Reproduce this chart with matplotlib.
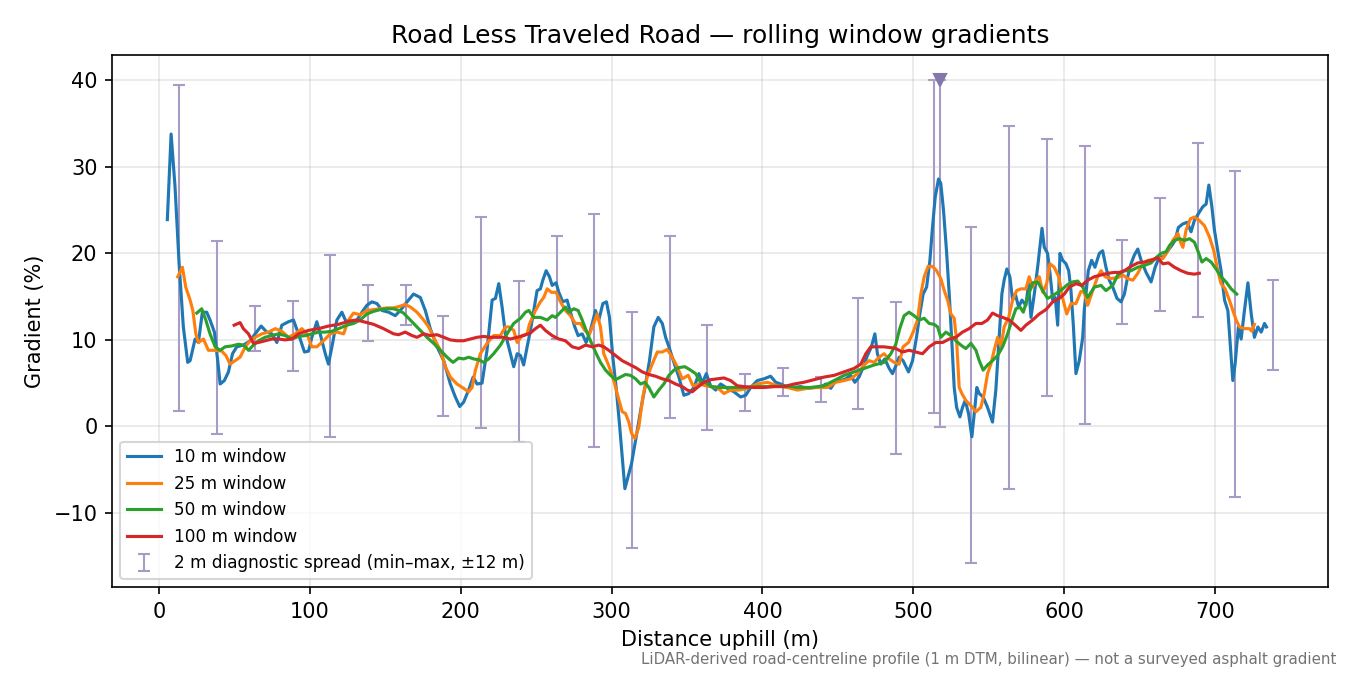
import numpy as np
import matplotlib
matplotlib.use("Agg")
import matplotlib.pyplot as plt

# 10 m window (distance m, gradient %)
x10 = [5.5, 8.0, 10.6, 13.3, 16.1, 19.0, 20.6, 23.9, 26.1, 28.7, 31.6, 33.8, 36.7, 38.9, 40.5, 43.3, 46.0, 48.7,
       51.5, 56.0, 60.4, 63.7, 67.7, 71.4, 74.8, 78.1, 81.4, 85.8, 89.1, 92.4, 96.4, 99.1, 101.3, 104.6, 106.8,
       110.2, 112.3, 114.6, 117.9, 121.2, 124.5, 127.9, 131.2, 134.5, 137.8, 141.1, 144.5, 147.8, 152.2, 156.6,
       159.9, 164.4, 168.7, 173.2, 176.5, 179.8, 184.3, 188.7, 193.1, 196.4, 199.3, 201.9, 205.2, 208.2, 210.8,
       214.1, 217.4, 220.8, 223.0, 225.2, 227.4, 229.6, 231.8, 235.1, 237.4, 239.6, 241.7, 244.0, 246.2, 248.4,
       250.6, 252.8, 254.4, 256.6, 258.8, 260.6, 263.2, 265.0, 267.6, 270.5, 272.7, 275.6, 277.8, 280.5, 283.1,
       286.0, 289.3, 291.5, 294.2, 296.6, 298.6, 300.8, 303.0, 305.2, 307.4, 308.8, 310.3, 313.2, 315.9, 319.2,
       322.5, 325.1, 328.0, 330.9, 333.6, 335.8, 338.0, 341.3, 344.6, 347.9, 351.2, 354.6, 357.9, 360.1, 362.8,
       365.6, 369.0, 372.3, 376.7, 381.1, 385.5, 388.9, 392.2, 396.6, 401.0, 405.4, 408.8, 412.1, 416.5, 420.9,
       425.3, 429.8, 434.2, 438.6, 441.9, 445.3, 448.6, 451.9, 455.2, 458.5, 461.2, 464.0, 466.9, 469.6, 472.2,
       474.5, 476.2, 478.4, 481.1, 484.0, 486.2, 488.4, 490.6, 493.2, 496.8, 499.5, 502.1, 504.3, 506.5, 508.8,
       511.0, 512.7, 514.5, 516.7, 518.2, 520.0, 522.0, 523.8, 525.5, 527.1, 528.7, 530.9, 532.6, 534.4, 536.6,
       538.8, 540.4, 542.1, 543.7, 546.3, 549.2, 552.5, 554.7, 556.5, 558.7, 560.2, 562.0, 564.0, 565.8, 567.6,
       569.8, 572.0, 574.6, 576.4, 578.0, 580.2, 582.4, 583.9, 585.3, 586.8, 589.0, 590.6, 592.4, 594.1, 595.7,
       597.2, 599.0, 601.2, 603.0, 604.5, 606.0, 607.8, 610.0, 612.3, 613.3, 616.0, 618.2, 620.4, 623.3, 625.5,
       627.7, 629.9, 632.2, 635.0, 637.7, 639.9, 642.1, 644.3, 646.5, 648.8, 651.0, 654.3, 657.6, 660.3, 663.1,
       666.0, 668.7, 671.3, 673.5, 675.7, 678.6, 681.5, 684.1, 686.3, 689.0, 691.9, 694.1, 695.9, 697.9, 699.6,
       701.8, 704.0, 706.3, 708.5, 710.2, 711.8, 713.3, 715.5, 717.3, 719.5, 721.8, 724.0, 726.1, 728.4, 730.6,
       732.8, 734.1]
g10 = [23.9, 33.8, 27.7, 18.8, 11.5, 7.4, 7.6, 10.1, 9.7, 13.2, 13.2, 12.3, 10.9, 7.6, 4.9, 5.3, 6.3, 8.4,
       9.2, 9.4, 9.9, 10.7, 11.6, 10.9, 10.7, 9.7, 11.7, 12.1, 12.3, 10.7, 8.6, 8.7, 10.3, 12.1, 10.7,
       8.4, 7.2, 9.2, 12.3, 13.2, 11.9, 12.1, 12.3, 13.2, 14.0, 14.4, 14.2, 13.4, 13.2, 12.8,
       13.4, 14.4, 15.3, 14.9, 13.4, 11.3, 9.2, 7.6, 4.9, 3.4, 2.3, 2.8, 4.2, 5.7, 4.9,
       5.0, 8.8, 14.6, 14.8, 16.5, 13.8, 10.7, 9.2, 6.9, 8.4, 8.2, 7.1, 9.2, 11.1, 13.4,
       15.7, 15.9, 16.9, 18.0, 17.3, 16.3, 16.6, 15.5, 14.4, 14.6, 13.2, 11.5, 10.5, 10.7, 9.7,
       11.1, 13.4, 12.3, 14.2, 14.4, 12.6, 8.0, 4.5, 0.3, -4.3, -7.2, -6.2, -4.3, -1.6, 1.8,
       4.9, 7.6, 11.5, 12.6, 11.9, 10.3, 9.2, 7.4, 5.7, 3.6, 3.8, 4.5, 6.1, 5.0, 6.1,
       4.7, 4.2, 4.9, 4.4, 4.0, 3.4, 3.6, 4.5, 5.3, 5.5, 5.8, 5.1, 4.9, 4.5, 4.5,
       4.6, 4.4, 4.5, 4.5, 4.9, 4.4, 5.3, 5.3, 5.5, 5.9, 5.1, 5.7, 6.9, 8.2, 9.2,
       10.7, 8.4, 7.2, 7.8, 6.7, 6.1, 7.0, 8.0, 7.6, 6.3, 7.6, 10.3, 13.0, 15.3, 16.1,
       19.2, 23.0, 26.5, 28.6, 28.1, 25.0, 20.3, 15.3, 9.9, 4.5, 2.2, 1.1, 2.2, 3.0, 1.5,
       -1.2, 1.5, 4.5, 3.8, 3.4, 2.2, 0.5, 4.2, 9.2, 15.3, 16.9, 18.2, 17.3, 14.6, 15.3,
       13.8, 14.6, 14.0, 16.5, 12.6, 15.3, 18.4, 20.7, 22.9, 20.7, 20.0, 17.7, 14.6, 14.9, 11.7,
       20.0, 19.2, 18.8, 18.0, 15.7, 11.9, 6.1, 7.6, 10.3, 13.4, 18.0, 19.2, 18.4, 20.0, 20.3,
       18.4, 16.9, 16.1, 14.8, 14.4, 15.3, 17.3, 18.8, 19.8, 20.5, 19.2, 17.8, 16.7, 18.4, 19.6,
       19.6, 20.3, 20.9, 21.5, 23.0, 23.4, 23.6, 22.5, 23.8, 24.6, 25.4, 25.7, 27.9, 25.4, 22.7,
       20.3, 18.0, 14.6, 13.4, 9.2, 5.3, 7.2, 11.5, 10.1, 13.4, 16.6, 13.0, 10.3, 11.5, 10.9,
       11.9, 11.5]

# 25 m window
x25 = [12.4, 15.5, 17.7, 20.6, 22.4, 24.4, 26.1, 29.4, 32.7, 36.7, 41.6, 44.3, 47.1, 50.4, 53.7, 56.6, 59.3,
       63.7, 68.1, 72.5, 77.0, 81.4, 85.8, 90.2, 94.7, 98.0, 101.3, 104.6, 109.0, 113.5, 117.9, 122.3, 125.6,
       128.9, 133.4, 137.8, 142.2, 146.6, 151.1, 155.5, 159.9, 163.2, 166.6, 171.0, 175.4, 178.7, 182.0, 186.5,
       189.8, 193.1, 197.5, 201.9, 205.2, 207.5, 209.7, 213.0, 217.4, 221.8, 226.3, 229.6, 231.8, 235.1, 237.4,
       240.7, 244.0, 245.5, 249.5, 252.8, 255.0, 257.3, 260.1, 263.2, 266.1, 269.4, 272.7, 276.0, 279.4, 282.2,
       285.3, 288.2, 290.4, 292.6, 294.8, 297.7, 300.8, 303.7, 307.0, 309.2, 311.4, 313.2, 315.4, 318.0, 320.7,
       323.6, 326.9, 330.3, 333.6, 336.9, 340.2, 343.5, 346.8, 350.8, 353.9, 357.9, 362.3, 366.0, 370.1, 374.5,
       378.9, 384.4, 390.0, 396.6, 403.3, 409.9, 416.5, 423.2, 429.8, 436.4, 443.1, 448.6, 454.1, 458.5, 463.0,
       467.4, 470.7, 474.0, 477.3, 480.6, 484.0, 487.3, 490.6, 493.2, 496.8, 499.9, 502.8, 505.0, 507.2, 509.8,
       512.7, 515.4, 518.2, 520.5, 522.7, 524.9, 527.1, 528.7, 530.4, 532.2, 534.8, 538.2, 541.5, 544.8, 547.0,
       549.2, 551.4, 553.6, 555.9, 558.1, 560.2, 563.2, 565.8, 568.5, 571.3, 574.6, 576.8, 579.1, 581.3, 583.5,
       585.8, 588.4, 590.6, 593.4, 596.4, 599.0, 601.7, 604.5, 607.8, 611.1, 613.3, 615.6, 618.9, 622.2, 624.4,
       627.1, 631.1, 635.5, 638.8, 642.1, 645.5, 648.8, 652.1, 655.4, 658.7, 662.0, 665.4, 668.7, 672.0, 675.4,
       677.1, 678.7, 680.8, 683.7, 686.3, 689.6, 693.0, 696.3, 699.2, 701.8, 704.0, 706.7, 709.5, 711.8, 714.0,
       716.2, 719.5, 722.8, 724.4, 726.1]
g25 = [17.3, 18.4, 16.1, 14.6, 13.4, 10.7, 9.7, 10.1, 8.8, 8.8, 8.7, 8.2, 7.2, 7.6, 8.0, 9.0, 9.7,
       10.3, 10.7, 10.9, 11.3, 11.0, 10.3, 10.7, 11.3, 10.7, 9.2, 9.2, 9.9, 10.7, 10.9, 10.7, 12.3,
       13.1, 12.9, 13.4, 13.5, 13.6, 13.7, 13.7, 13.9, 14.1, 13.8, 13.2, 12.3, 11.5, 10.3, 8.8,
       6.9, 5.7, 4.9, 4.4, 4.0, 4.5, 6.5, 8.4, 9.6, 10.5, 10.5, 11.5, 11.5, 11.1, 9.7,
       10.5, 10.7, 11.8, 13.4, 14.4, 14.9, 15.9, 15.5, 15.5, 14.4, 13.4, 12.8, 11.9, 11.9, 11.1,
       10.7, 11.9, 13.0, 11.5, 8.4, 7.2, 5.7, 3.8, 1.7, 1.5, 0.5, -0.8, -1.4, -0.1, 3.4,
       5.7, 7.2, 8.6, 8.6, 8.9, 8.0, 6.9, 5.5, 5.9, 4.7, 4.9, 4.7, 4.6, 4.5, 3.8,
       4.2, 4.2, 4.4, 4.9, 5.1, 4.7, 4.5, 4.2, 4.4, 4.5, 4.5, 5.1, 5.3, 5.5, 6.1,
       7.1, 7.6, 7.4, 8.0, 8.4, 7.8, 7.4, 7.2, 9.2, 9.7, 10.9, 12.3, 15.3, 17.3, 18.5,
       18.5, 18.0, 17.1, 15.7, 14.6, 13.0, 12.5, 9.9, 4.5, 3.8, 3.0, 2.4, 1.7, 2.2, 3.8,
       6.1, 7.2, 8.8, 10.3, 9.2, 11.5, 12.6, 14.6, 15.7, 15.9, 15.9, 17.3, 16.1, 16.9, 17.3,
       15.5, 16.5, 18.8, 18.4, 17.3, 14.8, 13.0, 14.2, 14.2, 15.6, 15.5, 14.0, 15.7, 17.3, 18.0,
       17.3, 17.1, 17.2, 17.5, 17.1, 16.9, 17.7, 18.8, 19.2, 19.3, 19.5, 19.4, 20.3, 21.5, 22.3,
       21.3, 20.7, 22.7, 24.0, 24.2, 23.8, 23.2, 21.9, 20.3, 18.0, 16.5, 15.9, 14.6, 13.4, 12.3,
       11.5, 11.3, 11.3, 11.0, 11.8]

# 50 m window
x50 = [25.0, 28.3, 31.0, 33.8, 37.2, 40.5, 43.8, 48.2, 52.6, 56.0, 59.3, 62.6, 65.9, 70.3, 74.8, 79.2, 83.6,
       88.1, 92.4, 96.9, 101.3, 105.7, 110.2, 114.6, 119.0, 124.5, 128.9, 133.4, 137.8, 142.2, 146.6, 151.1,
       155.5, 158.8, 162.1, 165.4, 168.7, 173.2, 177.6, 182.0, 186.5, 190.9, 194.9, 198.6, 201.9, 205.2, 208.6,
       211.9, 215.2, 218.5, 221.8, 226.3, 230.7, 235.1, 239.6, 242.9, 245.1, 248.4, 252.8, 257.3, 260.6, 262.8,
       266.1, 269.4, 271.6, 274.9, 277.8, 280.5, 283.1, 286.0, 289.3, 292.6, 296.0, 299.3, 302.6, 305.9, 309.2,
       312.5, 315.9, 319.2, 322.0, 324.7, 328.0, 331.3, 334.6, 338.0, 341.3, 344.6, 348.6, 352.4, 355.7, 359.0,
       362.3, 365.6, 372.3, 378.9, 387.7, 396.6, 405.4, 414.3, 423.2, 432.0, 440.8, 447.5, 454.1, 460.7, 467.4,
       474.0, 480.6, 485.1, 488.4, 491.0, 493.9, 497.2, 500.5, 503.9, 507.2, 510.5, 513.8, 516.1, 518.2, 521.6,
       524.9, 528.2, 531.5, 534.8, 538.2, 541.5, 543.7, 546.3, 549.2, 552.5, 555.9, 559.2, 562.5, 565.4, 568.0,
       570.7, 572.9, 575.8, 579.1, 582.4, 585.8, 589.0, 592.4, 595.7, 599.0, 602.3, 605.6, 609.0, 612.3, 615.6,
       620.0, 624.4, 627.7, 632.2, 635.5, 639.9, 644.3, 648.8, 653.2, 657.6, 660.9, 664.2, 667.6, 669.8, 673.1,
       676.4, 679.8, 683.1, 686.3, 688.6, 691.3, 694.1, 697.4, 700.7, 704.0, 707.3, 710.7, 714.4]
g50 = [13.1, 13.6, 12.3, 10.7, 9.2, 8.8, 9.2, 9.3, 9.5, 9.4, 8.8, 9.4, 9.9, 10.3, 10.5, 10.7, 10.5,
       10.1, 10.4, 10.5, 10.7, 10.9, 10.9, 11.0, 11.3, 11.7, 11.9, 12.3, 13.0, 13.3, 13.5, 13.6,
       13.6, 13.4, 13.1, 12.5, 11.9, 11.1, 10.3, 9.6, 8.8, 8.0, 7.4, 7.9, 7.8, 8.0, 7.8,
       7.7, 7.4, 7.8, 8.4, 9.4, 10.7, 11.9, 12.5, 13.2, 13.4, 12.6, 12.6, 12.3, 12.8, 12.6,
       13.2, 13.8, 13.2, 13.6, 13.4, 12.3, 11.1, 9.9, 8.6, 7.4, 6.5, 5.9, 5.4, 5.7, 6.0,
       5.9, 5.5, 4.9, 5.1, 4.5, 3.4, 4.2, 4.9, 5.9, 6.5, 6.8, 6.9, 6.5, 6.1, 5.1,
       5.1, 4.6, 4.5, 4.5, 4.5, 4.6, 4.6, 4.7, 4.5, 4.5, 4.7, 5.3, 5.9, 6.3, 6.7,
       7.1, 7.4, 8.4, 9.5, 11.3, 12.8, 13.2, 12.8, 12.3, 12.5, 11.9, 11.8, 11.5, 10.3, 10.9,
       10.5, 9.9, 9.4, 9.0, 9.6, 8.8, 7.6, 6.5, 7.1, 7.6, 8.2, 9.2, 10.7, 12.3, 13.6,
       13.8, 13.2, 14.9, 16.6, 16.7, 15.7, 14.8, 15.1, 15.5, 15.9, 16.4, 16.7, 16.8, 16.1, 14.9,
       16.1, 16.3, 15.7, 16.3, 17.5, 18.0, 18.0, 18.4, 18.6, 18.9, 19.5, 20.0, 20.2, 20.9, 21.5,
       21.7, 21.5, 21.7, 21.3, 20.3, 19.0, 19.4, 19.0, 18.2, 17.3, 16.7, 15.9, 15.3]

# 100 m window
x100 = [49.8, 53.7, 55.9, 59.3, 62.6, 65.9, 70.3, 74.8, 79.2, 83.6, 88.1, 92.4, 99.1, 105.7, 112.3, 119.0,
        126.7, 131.2, 135.6, 142.2, 148.8, 155.5, 158.8, 163.2, 167.7, 171.0, 175.4, 179.8, 184.3, 188.7, 193.1,
        197.5, 201.9, 206.4, 210.8, 215.2, 219.6, 224.1, 228.5, 232.9, 237.4, 241.7, 246.2, 249.5, 252.8, 256.1,
        260.6, 265.0, 269.4, 273.9, 278.2, 282.7, 287.1, 291.5, 294.8, 298.1, 302.6, 307.0, 311.4, 315.9, 320.3,
        324.7, 329.1, 333.6, 338.0, 342.4, 346.8, 350.2, 353.5, 356.8, 361.2, 365.6, 370.1, 374.5, 378.9, 383.3,
        387.7, 394.4, 401.0, 407.6, 414.3, 420.9, 427.5, 434.2, 440.8, 447.5, 454.1, 460.7, 465.2, 468.5, 471.8,
        476.2, 480.6, 485.1, 488.4, 492.8, 497.2, 501.7, 506.1, 510.5, 514.9, 519.4, 523.8, 528.2, 532.6, 537.0,
        541.5, 545.5, 549.2, 552.5, 555.9, 559.2, 563.6, 567.6, 571.3, 574.6, 579.1, 583.5, 587.9, 592.4, 596.7,
        600.1, 603.4, 607.8, 611.7, 615.6, 620.0, 624.4, 628.8, 633.2, 636.6, 639.9, 644.3, 648.8, 653.2, 657.6,
        662.0, 665.4, 669.1, 673.1, 677.5, 681.9, 686.3, 689.6]
g100 = [11.7, 12.0, 11.3, 10.7, 9.6, 9.7, 9.9, 10.1, 10.1, 10.0, 10.1, 10.7, 11.1, 11.3, 11.6, 11.8,
        12.2, 12.3, 12.1, 11.8, 11.3, 10.7, 10.6, 10.9, 10.5, 10.3, 10.7, 10.5, 10.6, 10.3, 10.0,
        9.9, 9.9, 10.1, 10.3, 10.4, 10.3, 10.3, 10.3, 10.1, 10.3, 10.5, 10.8, 11.3, 11.7, 11.1,
        10.5, 10.1, 9.9, 9.2, 9.0, 9.4, 9.2, 9.4, 9.2, 8.8, 8.2, 7.6, 7.2, 6.8, 6.3,
        6.0, 5.8, 5.5, 5.3, 4.9, 4.6, 4.2, 4.0, 4.5, 5.1, 5.4, 5.5, 5.6, 5.3, 4.7,
        4.6, 4.5, 4.5, 4.6, 4.6, 4.9, 5.1, 5.4, 5.7, 5.9, 6.3, 6.7, 7.2, 8.4, 9.2,
        9.2, 9.2, 9.1, 9.0, 8.6, 8.8, 8.6, 8.4, 9.2, 9.7, 9.7, 10.1, 10.3, 10.9, 11.3,
        11.9, 11.9, 12.3, 13.1, 12.8, 12.6, 12.3, 11.7, 11.1, 11.7, 12.3, 13.0, 13.5, 14.4, 14.8,
        15.3, 16.1, 16.5, 16.3, 16.9, 17.3, 17.5, 17.7, 17.8, 17.8, 18.0, 18.5, 18.9, 19.0, 19.2,
        19.5, 18.8, 18.9, 18.4, 18.0, 17.7, 17.6, 17.7]

# 2 m diagnostic spread: min / max within +-12 m
spread_x = [13.5, 38.5, 63.5, 88.5, 113.5, 138.5, 163.5, 188.5, 213.5, 238.5, 263.5, 288.5, 313.5, 338.5,
            363.5, 388.5, 413.5, 438.5, 463.5, 488.5, 513.5, 517.5, 538.5, 563.5, 588.5, 613.5, 638.5, 663.5,
            688.5, 713.5, 738.5]
spread_lo = [1.8, -0.9, 8.7, 6.4, -1.2, 9.9, 11.7, 1.2, -0.2, -1.8, 10.1, -2.4, -14.1, 1.0,
             -0.4, 1.8, 3.5, 2.8, 2.0, -3.2, 1.5, -0.1, -15.8, -7.2, 3.5, 0.3, 11.8, 13.3,
             12.7, -8.2, 6.5]
spread_hi = [39.5, 21.4, 13.9, 14.5, 19.8, 16.4, 16.4, 12.8, 24.2, 16.8, 22.0, 24.5, 13.2, 22.0,
             11.7, 6.1, 6.7, 5.7, 14.9, 14.4, 40.1, 40.0, 23.0, 34.7, 33.2, 32.4, 21.5, 26.4,
             32.8, 29.5, 16.9]

# peak marker
peak_x = [517.5]
peak_y = [40.0]

spread_col = '#a89cc6'

fig, ax = plt.subplots(figsize=(9, 4.5), dpi=150)
fig.subplots_adjust(left=0.083, right=0.984, top=0.918, bottom=0.130)

lo = np.array(spread_lo)
hi = np.array(spread_hi)
mid = (lo + hi) / 2
ax.errorbar(spread_x, mid, yerr=[mid - lo, hi - mid], fmt='none', ecolor=spread_col,
            elinewidth=1.0, capsize=3, capthick=1.0, zorder=1,
            label='2 m diagnostic spread (min–max, ±12 m)')
ax.plot(peak_x, peak_y, 'v', color='#8677aa', markersize=6, zorder=3)

ax.plot(x10, g10, color='tab:blue', lw=1.5, label='10 m window', zorder=2)
ax.plot(x25, g25, color='tab:orange', lw=1.5, label='25 m window', zorder=2)
ax.plot(x50, g50, color='tab:green', lw=1.5, label='50 m window', zorder=2)
ax.plot(x100, g100, color='tab:red', lw=1.5, label='100 m window', zorder=2)

ax.set_title('Road Less Traveled Road — rolling window gradients', fontsize=12)
ax.set_xlabel('Distance uphill (m)')
ax.set_ylabel('Gradient (%)')
ax.grid(True, alpha=0.3)

ax.legend(loc='lower left', fontsize=8.1)

fig.text(0.990, 0.012, 'LiDAR-derived road-centreline profile (1 m DTM, bilinear) — not a surveyed asphalt gradient',
         ha='right', va='bottom', fontsize=7.2, color='0.45')

fig.savefig('out.png', dpi=150)
